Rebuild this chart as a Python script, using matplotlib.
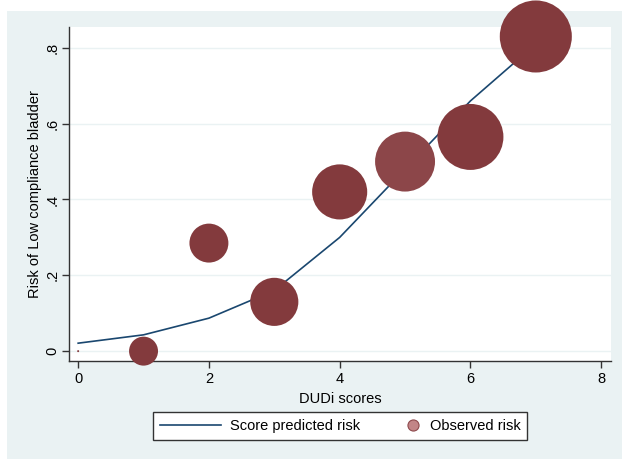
import numpy as np
import matplotlib.pyplot as plt
from matplotlib.patches import Rectangle
from matplotlib.lines import Line2D
from matplotlib.legend_handler import HandlerLine2D

# DUDi scores, predicted and observed risk, bubble weights
scores = [0, 1, 2, 3, 4, 5, 6, 7]
predicted = [0.021, 0.043, 0.087, 0.16, 0.30, 0.48, 0.66, 0.81]
observed = [0.0, 0.0, 0.285, 0.13, 0.42, 0.50, 0.565, 0.83]
weights = [0.1, 21, 38, 58, 76, 90, 109, 130]

yticks = [0, 0.2, 0.4, 0.6, 0.8]
ytick_labels = ["0", ".2", ".4", ".6", ".8"]
xticks = [0, 2, 4, 6, 8]

plt.rcParams['font.family'] = ['Liberation Sans', 'DejaVu Sans']
plt.rcParams['font.size'] = 10.5


class RightMarkerHandler(HandlerLine2D):
    # put the single legend marker at the right end of the handle box
    def get_xdata(self, legend, xdescent, ydescent, width, height, fontsize):
        xd = np.array([width - 6.0 - xdescent])
        return xd, xd


fig = plt.figure(figsize=(6.22, 4.59), dpi=100)
fig.patch.set_facecolor("white")
fig.patches.append(Rectangle((7 / 622, 0), 1, 1 - 11 / 459, transform=fig.transFigure,
                             facecolor="#EAF2F3", edgecolor="none", zorder=-10))

ax = fig.add_axes([69 / 622, 1 - 361 / 459, (611 - 69) / 622, (361 - 27) / 459])
ax.set_facecolor("white")

ax.plot(scores, predicted, color="#1A476F", lw=1.2, zorder=2)

colors = ["#833A3D"] * len(scores)
colors[5] = "#8C4649"
sizes = [20.7 * w for w in weights]
ax.scatter(scores, observed, s=sizes, c=colors, edgecolors="none", zorder=3, clip_on=False)

ax.set_xlim(-0.14, 8.15)
ax.set_ylim(-0.026, 0.855)
ax.set_xticks(xticks)
ax.set_yticks(yticks)
ax.set_yticklabels(ytick_labels, rotation=90, va="center")
ax.grid(axis="y", color="#EAF2F3", lw=1)
ax.set_axisbelow(True)
for s in ["top", "right"]:
    ax.spines[s].set_visible(False)
for s in ["left", "bottom"]:
    ax.spines[s].set_color("#333333")
    ax.spines[s].set_linewidth(1)
ax.tick_params(direction="out", length=5, width=1, color="#333333", pad=3)
ax.tick_params(axis="y", pad=2)

ax.set_xlabel("DUDi scores", labelpad=4)
ax.set_ylabel("Risk of Low compliance bladder", labelpad=2)

line_handle = Line2D([], [], color="#1A476F", lw=1.2)
dot_handle = Line2D([], [], marker="o", ls="none", markersize=8,
                    markerfacecolor="#C28587", markeredgecolor="#8E4A4D", markeredgewidth=0.8)
leg = fig.legend([line_handle, dot_handle], ["Score predicted risk", "Observed risk"],
                 loc="center", bbox_to_anchor=(340 / 622, 1 - 426 / 459), ncol=2,
                 handlelength=4.2, columnspacing=0.0, handletextpad=0.6,
                 fancybox=False, framealpha=1, edgecolor="#333333", borderpad=0.45,
                 handler_map={dot_handle: RightMarkerHandler(numpoints=1)})
leg.get_frame().set_linewidth(1)

fig.savefig("out.png", dpi=100)
